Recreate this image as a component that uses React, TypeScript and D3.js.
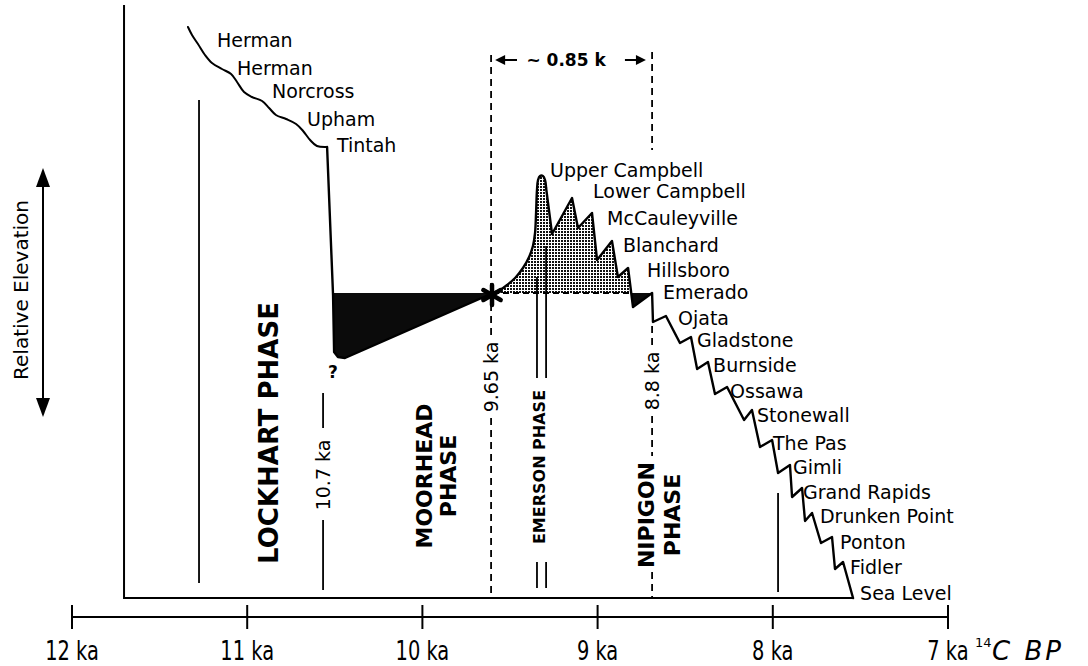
import * as d3 from "d3";

// x values are radiocarbon years BP, y values are relative elevation (sea level = 0)
const axisKa = [12, 11, 10, 9, 8, 7];

// Lockhart phase: wavy descending profile through the upper beaches
const waveAge = [11338, 11315, 11281, 11241, 11201, 11144, 11092, 11058, 11018, 10973, 10915, 10875, 10836, 10778, 10721, 10681, 10641, 10602, 10544];
const waveElev = [114.2, 112.6, 110.8, 108.6, 107, 105.8, 104.8, 103.2, 101.2, 100.2, 99.4, 98, 96.6, 95.8, 94.8, 93.4, 91.6, 90.4, 90.2];

// drop after Tintah, Moorhead low water, back up to the 9.65 ka point
const dropAge = [10544, 10510, 10504, 10482, 10442, 9597];
const dropElev = [90.2, 60.6, 49.2, 48.2, 48, 61];

// rise to the Upper Campbell peak
const riseAge = [9597, 9557, 9517, 9471, 9426, 9391, 9369, 9357, 9351, 9346, 9340, 9329, 9312, 9300, 9294];
const riseElev = [61, 61.6, 62.6, 64, 66, 68.2, 70.4, 73, 77.2, 81.6, 83.6, 84.4, 84.4, 83.6, 82];

// stepwise fall from Upper Campbell to sea level
const stairAge = [9294, 9260, 9146, 9112, 9032, 9003, 8918, 8884, 8826, 8798, 8689, 8684, 8610, 8530, 8467, 8432, 8370, 8330, 8261, 8164, 8119, 8073, 8004, 7970, 7902, 7890, 7833, 7816, 7776, 7725, 7662, 7645, 7599, 7542];
const stairElev = [82, 72.8, 80, 74, 77, 67.6, 71.4, 64.2, 66, 58.2, 61, 55.2, 56.4, 51, 52.2, 45.8, 47.2, 40.8, 42.2, 35.6, 37.6, 30.2, 31.6, 25, 26.6, 20.2, 22, 15.4, 17, 11, 12.2, 5.8, 7.2, 0];

const levelElev = 61;
const levelStart = 9597;
const levelEnd = 8809;

const upperBeaches = ["Herman", "Herman", "Norcross", "Upham", "Tintah"];
const upperBeachAge = [11207, 11092, 10893, 10693, 10522];
const upperBeachElev = [111.6, 106, 101.4, 95.8, 90.6];

const lowerBeaches = ["Upper Campbell", "Lower Campbell", "McCauleyville", "Blanchard", "Hillsboro", "Emerado", "Ojata", "Gladstone", "Burnside", "Ossawa", "Stonewall", "The Pas", "Gimli", "Grand Rapids", "Drunken Point", "Ponton", "Fidler", "Sea Level"];
const lowerBeachAge = [9306, 9060, 8980, 8889, 8752, 8661, 8575, 8467, 8375, 8278, 8124, 8033, 7919, 7862, 7765, 7650, 7593, 7536];
const lowerBeachElev = [85.6, 81.4, 76, 70.6, 65.6, 61.2, 56, 51.6, 46.6, 41.4, 36.6, 31, 26.2, 21.2, 16.4, 11.2, 6.2, 1];

const phaseLines = [["LOCKHART PHASE"], ["MOORHEAD", "PHASE"], ["EMERSON PHASE"], ["NIPIGON", "PHASE"]];
const phaseAge = [10875, 9917, 9334, 8644];
const phaseElev = [33, 24.4, 26.2, 16.6];
const phaseFont = [26, 22, 16, 22];
const phaseGap = [0, 24, 0, 26];

const dateLabels = ["10.7 ka", "9.65 ka", "8.8 ka"];
const dateAge = [10567, 9608, 8689];
const dateElev = [24.6, 44.2, 43.4];

const solidAge = [11275, 10567, 10567, 9346, 9346, 9294, 9294, 7970];
const solidTop = [99.6, 41, 15.6, 64.2, 7.2, 70.4, 7.2, 21];
const solidBottom = [3, 34, 1.6, 44, 2, 44, 2, 1.2];

const dashedAge = [9608, 9608, 9608, 8689, 8689, 8689, 8689];
const dashedTop = [108.6, 58.8, 36, 109.2, 54.4, 36.4, 5.2];
const dashedBottom = [62.4, 52.4, 0, 89.6, 50.4, 28.4, 0];

const bracketElev = 107.6;
const bracketLeft = [9460, 9585];
const bracketRight = [8844, 8724];
const bracketLabelAge = 9180;

const frameAge = 11703;
const frameTop = 118.6;
const questionAge = 10510;
const questionElev = 45.2;

const W = 1088;
const H = 666;
const axisY = 617;
const font = "DejaVu Sans, sans-serif";

const x = d3.scaleLinear().domain([12000, 7000]).range([72, 948]);
const y = d3.scaleLinear().domain([0, 100]).range([598, 98]);

const pts = (a: number[], e: number[]) => a.map((v, i) => [v, e[i]] as [number, number]);

export default function App() {
  const lin = d3.line<[number, number]>().x(d => x(d[0])).y(d => y(d[1]));
  const wavy = d3.line<[number, number]>().x(d => x(d[0])).y(d => y(d[1])).curve(d3.curveCatmullRom.alpha(0.5));

  const wavePath = wavy(pts(waveAge, waveElev)) ?? "";
  const dropPath = lin(pts(dropAge, dropElev)) ?? "";
  const risePath = wavy(pts(riseAge, riseElev)) ?? "";
  const stairPath = lin(pts(stairAge, stairElev)) ?? "";
  const yl = y(levelElev);
  const fillPath =
    dropPath +
    risePath.replace(/^M/, "L") +
    stairPath.replace(/^M/, "L") +
    `L${x(7542)},${yl}L${x(dropAge[0])},${yl}Z`;

  const arrowHead = (tx: number, ty: number, dir: number, len = 10, hw = 5) =>
    `M${tx},${ty}L${tx - dir * len},${ty - hw}L${tx - dir * len},${ty + hw}Z`;

  // six-armed asterisk at the 9.65 ka crossing
  const ast = [0, 60, 120].map(a => {
    const r = (a * Math.PI) / 180;
    return [Math.sin(r) * 10, -Math.cos(r) * 10];
  });
  const ax = x(levelStart) - 1;
  const ay = yl + 2;

  return (
    <svg width={W} height={H} style={{ position: "absolute", left: 0, top: 0, background: "#fff" }} fontFamily={font}>
      <defs>
        <pattern id="stip" width={3} height={3} patternUnits="userSpaceOnUse">
          <rect width={3} height={3} fill="#fff" />
          <rect width={2} height={2} fill="#111" />
        </pattern>
        <clipPath id="above">
          <rect x={x(levelStart) - 2} y={0} width={x(8826) - x(levelStart) + 10} height={yl} />
        </clipPath>
        <clipPath id="below">
          <rect x={x(dropAge[0])} y={yl} width={x(8689) - x(dropAge[0])} height={H - yl} />
        </clipPath>
      </defs>

      {/* frame */}
      <path d={`M${x(frameAge)},${y(frameTop)}V${y(0)}H${x(7542)}`} fill="none" stroke="#000" strokeWidth={2} />

      {/* fills */}
      <path d={fillPath} fill="url(#stip)" clipPath="url(#above)" />
      <path d={fillPath} fill="#0b0b0b" clipPath="url(#below)" />
      <line x1={x(levelStart)} x2={x(levelEnd)} y1={yl} y2={yl} stroke="#000" strokeWidth={2} strokeDasharray="6 4" />

      {/* profile */}
      <g fill="none" stroke="#000" strokeWidth={2.4} strokeLinejoin="round" strokeLinecap="round">
        <path d={wavePath} strokeWidth={2} />
        <path d={dropPath} />
        <path d={risePath} />
        <path d={stairPath} />
      </g>

      {/* solid markers */}
      {solidAge.map((a, i) => (
        <line key={"s" + i} x1={x(a)} x2={x(a)} y1={y(solidTop[i])} y2={y(solidBottom[i])} stroke="#000" strokeWidth={1.8} />
      ))}
      {/* dashed markers */}
      {dashedAge.map((a, i) => (
        <line key={"d" + i} x1={x(a)} x2={x(a)} y1={y(dashedTop[i])} y2={y(dashedBottom[i])} stroke="#000" strokeWidth={1.8} strokeDasharray="7 5" />
      ))}

      {/* asterisk */}
      <g stroke="#000" strokeWidth={4.5} strokeLinecap="round">
        {ast.map(([dx, dy], i) => (
          <line key={"a" + i} x1={ax - dx} y1={ay - dy} x2={ax + dx} y2={ay + dy} />
        ))}
      </g>

      {/* ~0.85 k bracket */}
      <g stroke="#000" strokeWidth={2} fill="#000">
        <line x1={x(bracketLeft[0])} x2={x(bracketLeft[1]) + 6} y1={y(bracketElev)} y2={y(bracketElev)} />
        <path d={arrowHead(x(bracketLeft[1]), y(bracketElev), -1)} stroke="none" />
        <line x1={x(bracketRight[0])} x2={x(bracketRight[1]) - 6} y1={y(bracketElev)} y2={y(bracketElev)} />
        <path d={arrowHead(x(bracketRight[1]), y(bracketElev), 1)} stroke="none" />
      </g>
      <text x={x(bracketLabelAge)} y={y(bracketElev)} textAnchor="middle" dominantBaseline="central" fontSize={17} fontWeight="bold">
        ~ 0.85 k
      </text>

      {/* beach labels */}
      {upperBeaches.map((n, i) => (
        <text key={"u" + i} x={x(upperBeachAge[i]) + 6} y={y(upperBeachElev[i])} dominantBaseline="central" fontSize={19}>
          {n}
        </text>
      ))}
      {lowerBeaches.map((n, i) => (
        <text key={"l" + i} x={x(lowerBeachAge[i]) + 6} y={y(lowerBeachElev[i])} dominantBaseline="central" fontSize={19}>
          {n}
        </text>
      ))}

      <text x={x(questionAge)} y={y(questionElev)} textAnchor="middle" dominantBaseline="central" fontSize={17} fontWeight="bold">
        ?
      </text>

      {/* phase labels */}
      {phaseLines.map((lines, i) => (
        <g key={"p" + i} transform={`translate(${x(phaseAge[i])},${y(phaseElev[i])}) rotate(-90)`}>
          {lines.map((t, j) => (
            <text key={j} x={0} y={(j - (lines.length - 1) / 2) * phaseGap[i]} textAnchor="middle" dominantBaseline="central" fontSize={phaseFont[i]} fontWeight="bold">
              {t}
            </text>
          ))}
        </g>
      ))}

      {/* dates */}
      {dateLabels.map((t, i) => (
        <text key={"t" + i} transform={`translate(${x(dateAge[i])},${y(dateElev[i])}) rotate(-90)`} textAnchor="middle" dominantBaseline="central" fontSize={19}>
          {t}
        </text>
      ))}

      {/* relative elevation */}
      <text transform="translate(21,290) rotate(-90)" textAnchor="middle" dominantBaseline="central" fontSize={20}>
        Relative Elevation
      </text>
      <g fill="#000">
        <line x1={43} x2={43} y1={180} y2={405} stroke="#000" strokeWidth={2} />
        <path d="M43,168L36,187L50,187Z" />
        <path d="M43,417L36,398L50,398Z" />
      </g>

      {/* time axis */}
      <line x1={x(12000)} x2={x(7000)} y1={axisY} y2={axisY} stroke="#000" strokeWidth={2} />
      {axisKa.map(k => (
        <g key={k}>
          <line x1={x(k * 1000)} x2={x(k * 1000)} y1={axisY - 12} y2={axisY + 12} stroke="#000" strokeWidth={2} />
          <text transform={`translate(${x(k * 1000)},${axisY + 34}) scale(0.72,1)`} textAnchor="middle" dominantBaseline="central" fontSize={27}>
            {`${k} ka`}
          </text>
        </g>
      ))}
      <text x={975} y={axisY + 25} dominantBaseline="central" fontSize={13}>
        14
      </text>
      <text x={992} y={axisY + 34} dominantBaseline="central" fontSize={26} fontStyle="italic" letterSpacing={3}>
        C BP
      </text>
    </svg>
  );
}
